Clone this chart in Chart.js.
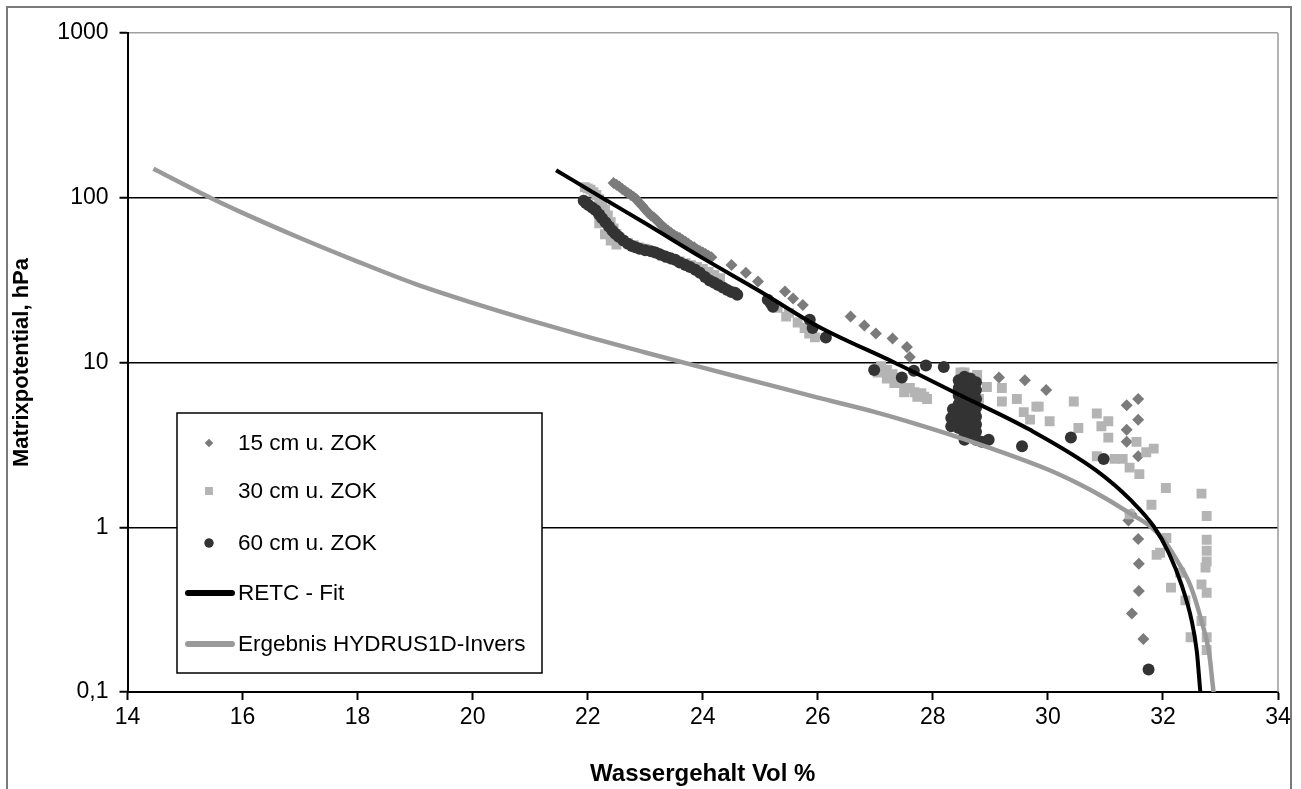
<!DOCTYPE html>
<html>
<head>
<meta charset="utf-8">
<script src="https://cdn.jsdelivr.net/npm/chart.js@4.4.0/dist/chart.umd.min.js"></script>
<style>
  html, body { margin: 0; padding: 0; background: #fff; }
  #wrap { position: relative; width: 1301px; height: 789px; }
</style>
</head>
<body>
<div id="wrap"><canvas id="chart" width="1301" height="789"></canvas></div>
<script>
// Axis ticks
const xTicks = [14, 16, 18, 20, 22, 24, 26, 28, 30, 32, 34];
const yTicks = [0.1, 1, 10, 100, 1000];

const seriesLabels = ['15 cm u. ZOK', '30 cm u. ZOK', '60 cm u. ZOK', 'RETC - Fit', 'Ergebnis HYDRUS1D-Invers'];

// Messwerte [Wassergehalt, Matrixpotential]
const depth15 = [
  [22.45,123],[22.5,120],[22.55,117],[22.6,113],[22.65,110],[22.7,107],[22.75,104],[22.8,101],
  [22.85,98],[22.9,93],[22.95,89],[23.0,85],[23.05,81],[23.1,78],[23.15,76],[23.2,73],
  [23.25,70],[23.3,67],[23.35,65],[23.4,63],[23.45,61],[23.5,59.5],[23.55,58],[23.6,57],
  [23.65,55.5],[23.7,54],[23.75,52.5],[23.8,51],[23.85,50],[23.9,48.5],[23.95,47.5],[24.0,46.5],
  [24.05,45.5],[24.1,44.5],[24.15,43.5],
  [24.5,39],[24.75,35],[24.96,31],[25.43,27],[25.57,24.5],[25.74,22.3],[26.57,19],[26.81,16.8],
  [27.01,15],[27.3,14],[27.55,12.4],[27.6,10.8],[29.15,8.1],[29.6,7.8],[29.97,6.8],
  [31.37,5.5],[31.57,6.0],[31.37,3.9],[31.57,4.5],[31.37,3.3],[31.57,2.7],[31.4,1.1],[31.57,0.85],
  [31.45,1.2],[31.58,0.6],[31.58,0.41],[31.46,0.3],[31.66,0.21]
];

const depth30 = [
  [21.95,116],[22.0,114],[22.05,112],[22.1,108],[22.15,104],[22.2,98],[22.25,92],[22.3,85],
  [22.35,78],[22.4,71],[22.45,65],[22.5,60],[22.55,57],[22.6,55],[22.7,53],[22.8,51.5],
  [22.9,50],[23.0,49],[23.1,47.5],[23.2,46],[23.3,44.5],[23.4,43],[23.5,42],[23.6,41],
  [23.7,40],[23.8,39],[23.9,38],[24.0,37],[24.1,35.5],[24.2,34],[24.3,32.5],
  [22.2,70],[22.3,60],[22.4,55],[22.5,52],
  [25.3,21.5],[25.45,19],[25.5,20],[25.65,17.5],[25.77,16.2],[25.85,15],[25.95,14.2],
  [27.04,8.7],[27.1,9.5],[27.2,9.0],[27.2,8.0],[27.3,8.5],[27.33,7.5],[27.38,7.9],[27.45,7.5],
  [27.5,6.6],[27.6,7.0],[27.68,6.6],[27.73,6.2],[27.8,6.5],[27.85,6.2],[27.9,6.0],
  [28.48,8.7],[28.55,8.7],[28.77,8.4],[28.65,7.5],[28.8,6.0],
  [28.94,7.1],[29.2,7.0],[29.2,5.8],[29.46,6.0],[29.58,5.0],[29.8,5.4],[29.69,4.5],[30.03,4.4],
  [30.45,5.8],[29.84,5.4],[30.53,4.0],[30.85,4.9],[31.05,4.4],[30.93,4.1],[31.05,3.5],[30.85,2.7],
  [31.16,2.6],[31.3,2.6],[31.54,3.3],[31.71,2.85],[31.84,3.0],[31.42,2.3],[31.59,2.1],[32.05,1.73],
  [31.8,1.37],[31.42,1.2],[32.67,1.6],[32.76,1.17],
  [32.06,0.86],[31.89,0.68],[31.95,0.7],[32.3,0.53],[32.14,0.43],[32.39,0.36],[32.48,0.215],
  [32.76,0.84],[32.76,0.72],[32.76,0.62],[32.74,0.57],[32.67,0.45],[32.76,0.4],[32.67,0.27],
  [32.76,0.215],[32.76,0.18]
];

const depth60 = [
  [21.93,96],[21.97,93],[22.02,90],[22.08,87],[22.14,84],[22.2,79],[22.25,75],[22.31,71],
  [22.37,67],[22.43,63],[22.48,60.5],[22.54,58],[22.62,55],[22.7,52.5],[22.77,51],[22.83,50],
  [22.9,49],[23.0,48],[23.1,47.3],[23.18,46.5],[23.26,45.3],[23.35,44],[23.44,43],[23.52,42],
  [23.6,40.5],[23.7,39],[23.78,38],[23.87,36.5],[23.95,35],[24.04,33],[24.12,31.5],[24.2,30.5],
  [24.27,29.5],[24.35,28.5],[24.43,27.5],[24.5,26.8],[24.56,26.5],[24.6,25.8],
  [25.13,24],[25.18,23],[25.22,21.8],[25.86,18.2],[25.91,16.2],[26.14,14.2],
  [26.98,9.0],[27.46,8.1],[27.67,8.9],[27.88,9.6],[28.19,9.4],
  [28.45,7.8],[28.45,7.0],[28.45,6.3],[28.45,5.6],[28.45,5.0],[28.45,4.5],[28.45,4.0],
  [28.55,8.2],[28.55,7.4],[28.55,6.6],[28.55,5.9],[28.55,5.2],[28.55,4.6],[28.55,4.1],[28.55,3.7],[28.55,3.4],
  [28.65,8.0],[28.65,7.2],[28.65,6.5],[28.65,5.8],[28.65,5.1],[28.65,4.5],[28.65,4.0],[28.65,3.6],
  [28.75,7.6],[28.75,6.8],[28.75,6.0],[28.75,5.3],[28.75,4.7],[28.75,4.2],[28.75,3.8],[28.75,3.4],
  [28.32,4.6],[28.35,5.2],[28.32,4.1],[28.85,3.3],
  [28.97,3.4],[29.55,3.1],[30.4,3.5],[30.97,2.6],[31.75,0.137]
];

// Kurven
const retcTheta = [21.45,22.25,23,24,25,26,27.33,28.37,29.69,30.85,31.45,31.85,32.1,32.33,32.5,32.59,32.65,32.68];
const retcH     = [147,100,70,43,27,16.6,10,6.6,3.9,2.2,1.45,1.0,0.7,0.44,0.27,0.175,0.1,0.08];

const hydrusTheta = [14.45,15.44,16,17,18,19,20,21,22,23,24,25,26,27,28,29,30,30.5,31,31.4,31.8,32.0,32.22,32.48,32.67,32.8,32.88,32.92];
const hydrusH     = [150,100,81,57,41,30,23,18,14.3,11.5,9.3,7.55,6.12,5.0,3.94,3.02,2.24,1.86,1.5,1.23,1.0,0.85,0.65,0.44,0.27,0.175,0.1,0.08];

const toPoints = arr => arr.map(p => ({ x: p[0], y: p[1] }));
const zipPoints = (xs, ys) => xs.map((x, i) => ({ x: x, y: ys[i] }));

const FONT = "'Liberation Sans', Arial, sans-serif";

// white background, outer frame, plot border
const framePlugin = {
  id: 'frame',
  beforeDraw(chart) {
    const ctx = chart.ctx;
    ctx.save();
    ctx.fillStyle = '#fff';
    ctx.fillRect(0, 0, chart.width, chart.height);
    ctx.strokeStyle = '#7a7a7a';
    ctx.lineWidth = 2;
    ctx.strokeRect(7, 7, 1284, 820);
    ctx.restore();
  },
  beforeDatasetsDraw(chart) {
    const a = chart.chartArea, ctx = chart.ctx;
    ctx.save();
    ctx.strokeStyle = '#9a9a9a';
    ctx.lineWidth = 1.5;
    ctx.beginPath();
    ctx.moveTo(a.right, a.top);
    ctx.lineTo(a.right, a.bottom);
    ctx.stroke();
    ctx.restore();
  }
};

// legend box inside the plot
const boxLegend = {
  id: 'boxLegend',
  afterDraw(chart) {
    const ctx = chart.ctx;
    const left = 177, top = 413, w = 365, h = 260;
    ctx.save();
    ctx.fillStyle = '#fff';
    ctx.fillRect(left, top, w, h);
    ctx.strokeStyle = '#000';
    ctx.lineWidth = 1.5;
    ctx.strokeRect(left, top, w, h);
    ctx.font = '22.5px ' + FONT;
    ctx.textBaseline = 'middle';
    const rows = [443, 491, 543, 593, 644];
    chart.data.datasets.forEach((ds, i) => {
      const y = rows[i];
      if (ds.showLine) {
        ctx.strokeStyle = ds.borderColor;
        ctx.lineWidth = 6;
        ctx.lineCap = 'round';
        ctx.beginPath();
        ctx.moveTo(188, y);
        ctx.lineTo(232, y);
        ctx.stroke();
      } else {
        ctx.fillStyle = ds.backgroundColor;
        Chart.helpers.drawPoint(ctx, { pointStyle: ds.pointStyle, radius: ds.legendRadius, borderWidth: 0 }, 209, y);
        ctx.fill();
      }
      ctx.fillStyle = '#000';
      ctx.fillText(ds.label, 238, y + 1);
    });
    ctx.restore();
  }
};

new Chart(document.getElementById('chart'), {
  type: 'scatter',
  data: {
    datasets: [
      { label: seriesLabels[0], data: toPoints(depth15), pointStyle: 'rectRot', pointRadius: 6, legendRadius: 4,
        backgroundColor: '#7b7b7b', borderWidth: 0, order: 3 },
      { label: seriesLabels[1], data: toPoints(depth30), pointStyle: 'rect', pointRadius: 7, legendRadius: 5.5,
        backgroundColor: '#b4b4b4', borderWidth: 0, order: 2 },
      { label: seriesLabels[2], data: toPoints(depth60), pointStyle: 'circle', pointRadius: 6, legendRadius: 4.5,
        backgroundColor: '#333333', borderWidth: 0, order: 1 },
      { label: seriesLabels[3], data: zipPoints(retcTheta, retcH), showLine: true, pointRadius: 0,
        borderColor: '#000000', borderWidth: 4, cubicInterpolationMode: 'monotone', order: 0 },
      { label: seriesLabels[4], data: zipPoints(hydrusTheta, hydrusH), showLine: true, pointRadius: 0,
        borderColor: '#9a9a9a', borderWidth: 4.5, cubicInterpolationMode: 'monotone', order: 0 }
    ]
  },
  options: {
    responsive: false,
    animation: false,
    layout: { padding: { left: 7, top: 33, right: 23, bottom: 0 } },
    plugins: {
      legend: { display: false },
      tooltip: { enabled: false }
    },
    scales: {
      x: {
        type: 'linear',
        min: 14,
        max: 34,
        afterBuildTicks: scale => { scale.ticks = xTicks.map(v => ({ value: v })); },
        afterFit: scale => { scale.height = 97; },
        grid: { drawOnChartArea: false, drawTicks: true, tickLength: 8, tickColor: '#000', tickWidth: 2 },
        border: { color: '#000', width: 2 },
        ticks: { color: '#000', font: { family: FONT, size: 23 }, padding: 4, maxRotation: 0 },
        title: { display: true, text: 'Wassergehalt Vol %', color: '#000',
                 font: { family: FONT, size: 24, weight: 'bold' }, padding: { top: 2, bottom: 0 } }
      },
      y: {
        type: 'logarithmic',
        min: 0.1,
        max: 1000,
        afterBuildTicks: scale => { scale.ticks = yTicks.map(v => ({ value: v })); },
        afterFit: scale => { scale.width = 120.5; },
        grid: {
          color: c => (c.tick && c.tick.value === 1000) ? '#a0a0a0' : '#000',
          lineWidth: 1.5,
          tickLength: 8,
          tickColor: '#000',
          tickWidth: 2
        },
        border: { color: '#000', width: 2 },
        ticks: {
          color: '#000',
          font: { family: FONT, size: 23 },
          padding: 11,
          callback: v => String(v).replace('.', ',')
        },
        title: { display: true, text: 'Matrixpotential, hPa', color: '#000',
                 font: { family: FONT, size: 22, weight: 'bold' }, padding: { top: 2, bottom: 0 } }
      }
    }
  },
  plugins: [framePlugin, boxLegend]
});
</script>
</body>
</html>
